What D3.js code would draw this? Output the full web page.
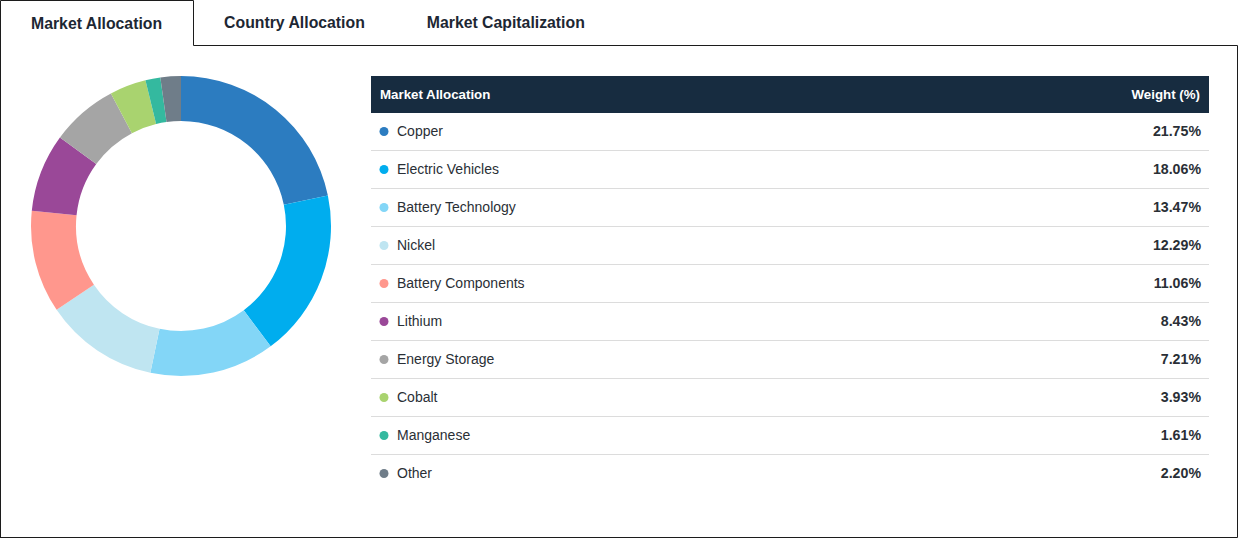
<!DOCTYPE html>
<html>
<head>
<meta charset="utf-8">
<script src="https://cdn.jsdelivr.net/npm/d3@7"></script>
<style>
  body { margin: 0; background: #fff; }
  svg text { font-family: "Liberation Sans", Arial, sans-serif; }
</style>
</head>
<body>
<svg id="chart"></svg>
<script>
// data
var tabs = ["Market Allocation", "Country Allocation", "Market Capitalization"];
var categories = ["Copper", "Electric Vehicles", "Battery Technology", "Nickel", "Battery Components",
                  "Lithium", "Energy Storage", "Cobalt", "Manganese", "Other"];
var weights = [21.75, 18.06, 13.47, 12.29, 11.06, 8.43, 7.21, 3.93, 1.61, 2.20];
var colors = ["#2c7cc0", "#00adee", "#83d6f7", "#bfe5f1", "#ff978d",
              "#9a4898", "#a5a5a5", "#a9d36f", "#34b99f", "#6f7d89"];

var width = 1240, height = 538;
var svg = d3.select("#chart").attr("width", width).attr("height", height);

var ink = "#1c1c1c";

// tabs, laid out one after the other with padding like html tabs
var tabPad = 31;
var tabText = svg.selectAll("text.tab")
    .data(tabs)
    .enter()
    .append("text")
    .attr("class", "tab")
    .attr("y", function(d, i) { return i == 0 ? 29 : 28; })
    .attr("font-size", 15.8)
    .attr("font-weight", "bold")
    .attr("fill", "#1d2733")
    .text(function(d) { return d; });

var cursor = 0, firstTabRight = 193;
tabText.each(function(d, i) {
    var w = this.getComputedTextLength();
    d3.select(this).attr("x", cursor + tabPad);
    cursor += w + tabPad * 2;
    if (i == 0) firstTabRight = Math.round(cursor);
});

// frame round the active tab and the panel
svg.append("path")
    .attr("fill", "none").attr("stroke", ink).attr("stroke-width", 1)
    .attr("d", "M0.5,538 V0.5 H" + (firstTabRight + 0.5) + " V45.5 H1237.5 V537.5 H0.5");

// donut
var pie = d3.pie().sort(null).value(function(d) { return d.w; });
var arc = d3.arc().innerRadius(105).outerRadius(150);
var slices = categories.map(function(c, i) { return { name: c, w: weights[i], color: colors[i] }; });

svg.append("g")
    .attr("transform", "translate(181,226)")
    .selectAll("path")
    .data(pie(slices))
    .enter()
    .append("path")
    .attr("d", arc)
    .attr("fill", function(d) { return d.data.color; });

// table
var tableLeft = 371, tableRight = 1209, headTop = 76, headH = 37, rowH = 38;
var rowY = d3.scaleBand().domain(categories).range([headTop + headH, headTop + headH + rowH * categories.length]);

var head = svg.append("g");
head.append("rect")
    .attr("x", tableLeft).attr("y", headTop)
    .attr("width", tableRight - tableLeft).attr("height", headH)
    .attr("fill", "#172c40");
head.append("text")
    .attr("x", tableLeft + 9).attr("y", headTop + 23)
    .attr("font-size", 13.3).attr("font-weight", "bold").attr("fill", "#fff")
    .text("Market Allocation");
head.append("text")
    .attr("x", tableRight - 9).attr("y", headTop + 23)
    .attr("text-anchor", "end")
    .attr("font-size", 13.3).attr("font-weight", "bold").attr("fill", "#fff")
    .text("Weight (%)");

var rows = svg.selectAll("g.row")
    .data(slices)
    .enter()
    .append("g")
    .attr("class", "row")
    .attr("transform", function(d) { return "translate(0," + rowY(d.name) + ")"; });

rows.filter(function(d, i) { return i < categories.length - 1; })
    .append("line")
    .attr("x1", tableLeft).attr("x2", tableRight)
    .attr("y1", rowH - 0.5).attr("y2", rowH - 0.5)
    .attr("stroke", "#dcdcdc");

rows.append("circle")
    .attr("cx", 384).attr("cy", 18.5)
    .attr("r", 4.5)
    .attr("fill", function(d) { return d.color; });

rows.append("text")
    .attr("x", 397).attr("y", 23)
    .attr("font-size", 14).attr("fill", "#2a2f36")
    .text(function(d) { return d.name; });

rows.append("text")
    .attr("x", tableRight - 8).attr("y", 23)
    .attr("text-anchor", "end")
    .attr("font-size", 14.2).attr("font-weight", "bold").attr("fill", "#2a2f36")
    .text(function(d) { return d.w.toFixed(2) + "%"; });
</script>
</body>
</html>
